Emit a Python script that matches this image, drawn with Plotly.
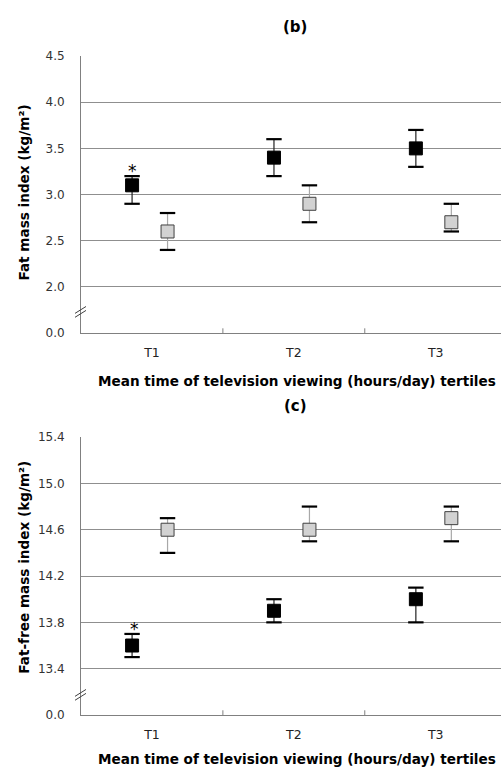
import plotly.graph_objects as go

W, H = 501, 776

categories = ["T1", "T2", "T3"]

# Panel (b): Fat mass index
fmi_black = [3.1, 3.4, 3.5]
fmi_black_lo = [2.9, 3.2, 3.3]
fmi_black_hi = [3.2, 3.6, 3.7]
fmi_gray = [2.6, 2.9, 2.7]
fmi_gray_lo = [2.4, 2.7, 2.6]
fmi_gray_hi = [2.8, 3.1, 2.9]
fmi_ticks = [1.5, 2.0, 2.5, 3.0, 3.5, 4.0, 4.5]
fmi_ticktext = ["0.0", "2.0", "2.5", "3.0", "3.5", "4.0", "4.5"]

# Panel (c): Fat-free mass index
ffmi_black = [13.6, 13.9, 14.0]
ffmi_black_lo = [13.5, 13.8, 13.8]
ffmi_black_hi = [13.7, 14.0, 14.1]
ffmi_gray = [14.6, 14.6, 14.7]
ffmi_gray_lo = [14.4, 14.5, 14.5]
ffmi_gray_hi = [14.7, 14.8, 14.8]
ffmi_ticks = [13.0, 13.4, 13.8, 14.2, 14.6, 15.0, 15.4]
ffmi_ticktext = ["0.0", "13.4", "13.8", "14.2", "14.6", "15.0", "15.4"]

FONT = "DejaVu Sans, Liberation Sans, sans-serif"
OFF_BLACK = -0.14
OFF_GRAY = 0.11

fig = go.Figure()


def add_series(xa, ya, mean, lo, hi, off, fill, edge, stem):
    xs = [i + 1 + off for i in range(len(mean))]
    fig.add_trace(go.Scatter(
        x=xs, y=mean, mode="markers", xaxis=xa, yaxis=ya, showlegend=False,
        marker=dict(symbol="square", size=13, color=fill, line=dict(color=edge, width=1)),
        error_y=dict(type="data", symmetric=False,
                     array=[h - m for h, m in zip(hi, mean)],
                     arrayminus=[m - l for m, l in zip(mean, lo)],
                     color=stem, thickness=1.2, width=0),
    ))
    fig.add_trace(go.Scatter(
        x=xs + xs, y=list(hi) + list(lo), mode="markers", xaxis=xa, yaxis=ya,
        showlegend=False, hoverinfo="skip",
        marker=dict(symbol="line-ew", size=11, line=dict(color="black", width=2.2)),
    ))


add_series("x", "y", fmi_black, fmi_black_lo, fmi_black_hi, OFF_BLACK, "black", "black", "#222222")
add_series("x", "y", fmi_gray, fmi_gray_lo, fmi_gray_hi, OFF_GRAY, "#d2d2d2", "#404040", "#a8a8a8")
add_series("x2", "y2", ffmi_black, ffmi_black_lo, ffmi_black_hi, OFF_BLACK, "black", "black", "#222222")
add_series("x2", "y2", ffmi_gray, ffmi_gray_lo, ffmi_gray_hi, OFF_GRAY, "#d2d2d2", "#404040", "#a8a8a8")

left = 81 / W
top_dom = [1 - 332 / H, 1 - 50 / H]
bot_dom = [1 - 721 / H, 1 - 438 / H]

xcommon = dict(range=[0.5, 3.46], tickmode="array", tickvals=[1, 2, 3], ticktext=categories,
               showgrid=False, zeroline=False, showline=True, linecolor="#808080", linewidth=1,
               ticks="", tickfont=dict(family=FONT, size=12.5, color="#222"), domain=[left, 1],
               ticklabelstandoff=8, fixedrange=True)
ycommon = dict(showgrid=True, gridcolor="#8f8f8f", gridwidth=1, zeroline=False, showline=True,
               linecolor="#808080", linewidth=1, ticks="", tickfont=dict(family=FONT, size=12, color="#333"),
               ticklabelstandoff=13)

fig.update_layout(
    width=W, height=H, margin=dict(l=0, r=0, t=0, b=0),
    paper_bgcolor="white", plot_bgcolor="white",
    xaxis=dict(anchor="y", **xcommon),
    yaxis=dict(anchor="x", domain=top_dom, range=[1.5, 4.5], tickvals=fmi_ticks, ticktext=fmi_ticktext, **ycommon),
    xaxis2=dict(anchor="y2", **xcommon),
    yaxis2=dict(anchor="x2", domain=bot_dom, range=[13.0, 15.4], tickvals=ffmi_ticks, ticktext=ffmi_ticktext, **ycommon),
)

# category boundary ticks (inside, pointing up)
for xa, ya in [("x", "y domain"), ("x2", "y2 domain")]:
    for b in [1.5, 2.5]:
        fig.add_shape(type="line", xref=xa, yref=ya, x0=b, x1=b, y0=0, y1=0.017,
                      line=dict(color="#808080", width=1))

# axis break marks
for yb in [310, 700]:
    for d in [0, 4]:
        fig.add_shape(type="line", xref="paper", yref="paper",
                      x0=75 / W, x1=86 / W,
                      y0=1 - (yb + 2 + d) / H, y1=1 - (yb - 5 + d) / H,
                      line=dict(color="#404040", width=1))


def pann(text, px, py, size, angle=0):
    return dict(text=text, x=px / W, y=1 - py / H, xref="paper", yref="paper",
                xanchor="center", yanchor="middle", textangle=angle, showarrow=False,
                font=dict(family=FONT, size=size, color="black"))


ann = []
ann.append(pann("<b>(b)</b>", 295, 20, 15))
ann.append(pann("<b>(c)</b>", 295, 406, 15))
xt = "<b>Mean time of television viewing (hours/day) tertiles</b>"
ann.append(pann(xt, 297, 381, 13.6))
ann.append(pann(xt, 297, 766, 13.6))
ann.append(pann("<b>Fat mass index (kg/m²)</b>", 24, 189, 13.6, -90))
ann.append(pann("<b>Fat-free mass index (kg/m²)</b>", 24, 571, 13.6, -90))
ann.append(dict(text="*", x=1 + OFF_BLACK, y=fmi_black_hi[0], xref="x", yref="y", yanchor="bottom",
                xanchor="center", yshift=-7, showarrow=False, font=dict(family=FONT, size=17, color="black")))
ann.append(dict(text="*", x=1 + OFF_BLACK + 0.02, y=ffmi_black_hi[0], xref="x2", yref="y2", yanchor="bottom",
                xanchor="center", yshift=-7, showarrow=False, font=dict(family=FONT, size=17, color="black")))
fig.update_layout(annotations=ann)

fig.write_html("out.html")
